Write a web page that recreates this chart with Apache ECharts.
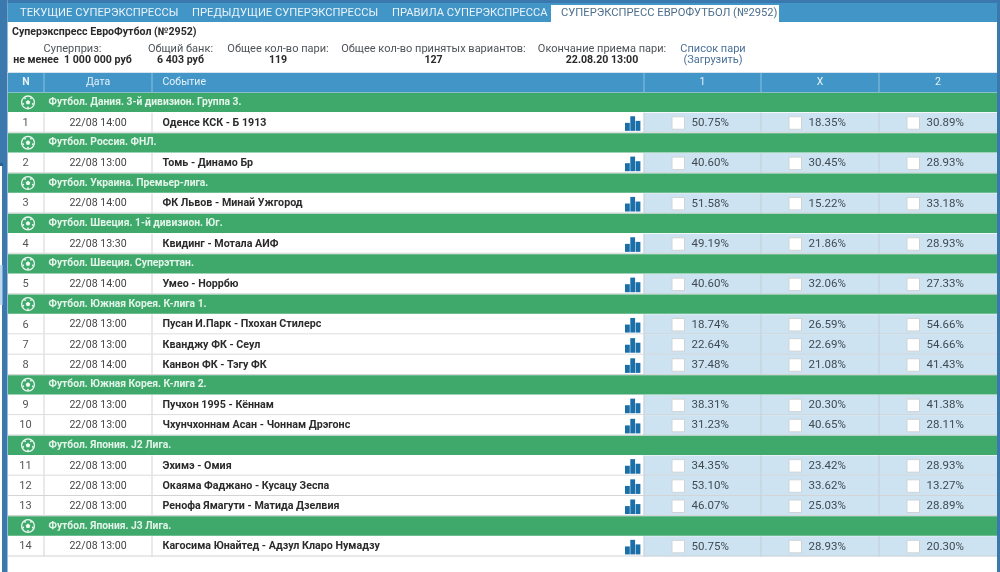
<!DOCTYPE html>
<html><head><meta charset="utf-8">
<style>html,body{margin:0;padding:0;background:#fff}#c{width:1000px;height:572px}</style>
<script src="https://cdn.jsdelivr.net/npm/echarts@6/dist/echarts.min.js"></script>
</head><body><div id="c"></div>
<script>
// ---------- data ----------
const tabLabels = ['ТЕКУЩИЕ СУПЕРЭКСПРЕССЫ','ПРЕДЫДУЩИЕ СУПЕРЭКСПРЕССЫ','ПРАВИЛА СУПЕРЭКСПРЕССА','СУПЕРЭКСПРЕСС ЕВРОФУТБОЛ (№2952)'];
const pageTitle = 'Суперэкспресс ЕвроФутбол (№2952)';
const statLabels = ['Суперприз:','Общий банк:','Общее кол-во пари:','Общее кол-во принятых вариантов:','Окончание приема пари:'];
const statValues = ['не менее  1 000 000 руб','6 403 руб','119','127','22.08.20 13:00'];
const linkLabels = ['Список пари','(Загрузить)'];
const columnLabels = ['N','Дата','Событие','1','X','2'];
const leagueNames = ['Футбол. Дания. 3-й дивизион. Группа 3.','Футбол. Россия. ФНЛ.','Футбол. Украина. Премьер-лига.','Футбол. Швеция. 1-й дивизион. Юг.','Футбол. Швеция. Суперэттан.','Футбол. Южная Корея. К-лига 1.','Футбол. Южная Корея. К-лига 2.','Футбол. Япония. J2 Лига.','Футбол. Япония. J3 Лига.'];
const leagueFirstMatch = [1,2,3,4,5,6,9,11,14];
const matchNumbers = [1,2,3,4,5,6,7,8,9,10,11,12,13,14];
const matchDates = ['22/08 14:00','22/08 13:00','22/08 14:00','22/08 13:30','22/08 14:00','22/08 13:00','22/08 13:00','22/08 14:00','22/08 13:00','22/08 13:00','22/08 13:00','22/08 13:00','22/08 13:00','22/08 13:00'];
const matchEvents = ['Оденсе КСК - Б 1913','Томь - Динамо Бр','ФК Львов - Минай Ужгород','Квидинг - Мотала АИФ','Умео - Норрбю','Пусан И.Парк - Пхохан Стилерс','Кванджу ФК - Сеул','Канвон ФК - Тэгу ФК','Пучхон 1995 - Кённам','Чхунчхоннам Асан - Чоннам Дрэгонс','Эхимэ - Омия','Окаяма Фаджано - Кусацу Зеспа','Ренофа Ямагути - Матида Дзелвия','Кагосима Юнайтед - Адзул Кларо Нумадзу'];
const percentHome = [50.75,40.60,51.58,49.19,40.60,18.74,22.64,37.48,38.31,31.23,34.35,53.10,46.07,50.75];
const percentDraw = [18.35,30.45,15.22,21.86,32.06,26.59,22.69,21.08,20.30,40.65,23.42,33.62,25.03,28.93];
const percentAway = [30.89,28.93,33.18,28.93,27.33,54.66,54.66,41.43,41.38,28.11,28.93,13.27,28.89,20.30];

// ---------- layout / style ----------
const EDGES = [8,44,152,644,761,879,997];
const BLUE='#4195c7', GREEN='#3fa96c', PALE='#cde3f1', LINE='#d2d4d6', FONT='Roboto, sans-serif';
const fnt=(s,b)=>(b?'bold ':'')+s+'px '+FONT;

// build the row list: header, then league / match rows in order
const rowNames=['header'];
const leagueRows=[], matchRows=[];
matchNumbers.forEach((n,i)=>{
  const l=leagueFirstMatch.indexOf(n);
  if(l>=0){ leagueRows.push([rowNames.length,l]); rowNames.push('league'+l); }
  matchRows.push([rowNames.length,i,percentHome[i],percentDraw[i],percentAway[i]]); rowNames.push('match'+n);
});

function band(api,idx){
  const c=api.coord([0,idx]); const h=api.size([0,1])[1];
  return {cy:c[1],top:c[1]-h/2,h};
}
const X=(api,v)=>api.coord([v,0])[0];
const rect=(x,y,w,h,fill,extra)=>({type:'rect',shape:{x,y,width:w,height:h},style:Object.assign({fill},extra||{})});
const txt=(t,x,y,font,fill,align)=>({type:'text',style:{text:t,x,y,font,fill,textAlign:align||'left',textVerticalAlign:'middle'}});

function renderHeader(params,api){
  const b=band(api,api.value(0)); const ch=[];
  ch.push(rect(X(api,EDGES[0]),b.top+0.7,X(api,EDGES[6])-X(api,EDGES[0]),b.h-0.7,BLUE));
  [1,2,3,4,5].forEach(i=>ch.push(rect(X(api,EDGES[i])-0.5,b.top+0.7,1,b.h-0.7,'#8dbfdd')));
  const centers=[(EDGES[0]+EDGES[1])/2,(EDGES[1]+EDGES[2])/2,EDGES[2]+10.5,(EDGES[3]+EDGES[4])/2,(EDGES[4]+EDGES[5])/2,(EDGES[5]+EDGES[6])/2];
  columnLabels.forEach((t,i)=>ch.push(txt(t,X(api,centers[i]),b.cy,fnt(10.5,i===0),'#e6f1f8',i===2?'left':'center')));
  return {type:'group',children:ch};
}
function ball(cx,cy){
  const r=6.4,ch=[{type:'circle',shape:{cx,cy,r},style:{fill:'none',stroke:'#eef8f2',lineWidth:1.3}}];
  ch.push({type:'polygon',shape:{points:[0,1,2,3,4].map(k=>{const a=-Math.PI/2+k*2*Math.PI/5;return [cx+2.4*Math.cos(a),cy+2.4*Math.sin(a)];})},style:{fill:'#eef8f2'}});
  [0,1,2,3,4].forEach(k=>{const a=-Math.PI/2+(k+.5)*2*Math.PI/5;ch.push({type:'circle',shape:{cx:cx+5*Math.cos(a),cy:cy+5*Math.sin(a),r:0.9},style:{fill:'#eef8f2'}});});
  return ch;
}
function renderLeague(params,api){
  const b=band(api,api.value(0)); const name=leagueNames[api.value(1)];
  const ch=[rect(X(api,EDGES[0]),b.top+0.3,X(api,EDGES[6])-X(api,EDGES[0]),b.h-0.9,GREEN)];
  ball(X(api,28),b.cy-0.2).forEach(e=>ch.push(e));
  ch.push(txt(name,X(api,48.5),b.cy-0.2,fnt(10.3,true),'#e4f4ea'));
  return {type:'group',children:ch};
}
function renderMatch(params,api){
  const b=band(api,api.value(0)), i=api.value(1), cy=b.cy+0.3, ch=[];
  const top=b.top, h=b.h;
  ch.push(rect(X(api,EDGES[0]),top,X(api,EDGES[3])-X(api,EDGES[0]),h,'#ffffff'));
  ch.push(rect(X(api,EDGES[3]),top,X(api,EDGES[6])-X(api,EDGES[3]),h,PALE));
  ch.push(rect(X(api,EDGES[0]),top+h-1,X(api,EDGES[6])-X(api,EDGES[0]),1,LINE));
  [1,2,3,4,5].forEach(k=>ch.push(rect(X(api,EDGES[k])-0.6,top,1.2,h,k<3?'#d9dadb':'#c4d2dc')));
  ch.push(txt(String(matchNumbers[i]),X(api,25.5),cy,fnt(11),'#555','center'));
  ch.push(txt(matchDates[i],X(api,98),cy,fnt(10.6),'#444','center'));
  ch.push(txt(matchEvents[i],X(api,162.5),cy,fnt(10.7,true),'#2b2b2b'));
  // little bar-chart icon
  const ix=X(api,625),bot=cy+7.8;
  [[0,4.8,8],[5.3,4.8,14.6],[10.6,4.8,10]].forEach(s=>ch.push(rect(ix+s[0],bot-s[2],s[1],s[2],'#1b6fa8')));
  // outcome cells
  [2,3,4].forEach((v,k)=>{
    const left=EDGES[3+k];
    ch.push(rect(X(api,left)+28,cy-6.3,12.5,12.5,'#ffffff',{stroke:'#cfd3d6',lineWidth:1}));
    ch.push(txt(api.value(v).toFixed(2)+'%',X(api,left)+47.5,cy,fnt(11.5),'#3f4a52'));
  });
  return {type:'group',children:ch};
}

const gText=(t,x,y,font,fill,align)=>({type:'text',x,y,silent:true,style:{text:t,font,fill,textAlign:align||'center',textVerticalAlign:'middle'}});
const gRect=(x,y,w,h,fill)=>({type:'rect',shape:{x,y,width:w,height:h},silent:true,style:{fill}});
const tabX=[20,192,392,561];
const statCenters=[72.5,180.5,278,433.5,602];
const graphics=[
  gRect(0,0,1000,572,'#ffffff'),
  gRect(2,0,5.5,572,'#3b78ad'),
  gRect(0,0,2,163,'#3b78ad'),
  gRect(0,163,3,3,'#2d5f8e'),
  gRect(0,265,2.5,40,'#bcd9ee'),
  gRect(997,0,3,572,'#3b78ad'),
  gRect(7.5,0,990,3,'#3b78ad'),
  gRect(7.5,3,989.5,19,BLUE),
  gRect(551,5,228,17.5,'#ffffff')
];
tabLabels.forEach((t,i)=>graphics.push(gText(t,tabX[i],13.3,fnt(11.2),i===3?'#4d6f8c':'#e9f3f9','left')));
graphics.push(gText(pageTitle,12,32.5,fnt(10.6,true),'#2a2a2a','left'));
statLabels.forEach((t,i)=>graphics.push(gText(t,statCenters[i],49,fnt(11),'#4e5358')));
statValues.forEach((t,i)=>graphics.push(gText(t,statCenters[i],60.5,fnt(10.6,true),'#2a2a2a')));
graphics.push(gText(linkLabels[0],713,49,fnt(11),'#4a7098'));
graphics.push(gText(linkLabels[1],713,60.5,fnt(11),'#4a7098'));
graphics.push(gRect(7.5,72,989.5,1,'#d7e4ed'));

const chart=echarts.init(document.getElementById('c'),null,{renderer:'canvas'});
chart.setOption({
  animation:false,
  backgroundColor:'#ffffff',
  graphic:{elements:graphics},
  grid:{left:0,top:72.33,width:1000,height:484.08,containLabel:false},
  xAxis:{type:'value',min:0,max:1000,show:false},
  yAxis:{type:'category',inverse:true,data:rowNames,show:false},
  series:[
    {type:'custom',coordinateSystem:'cartesian2d',clip:false,silent:true,data:[[0]],encode:{y:0},renderItem:renderHeader,z:3},
    {type:'custom',coordinateSystem:'cartesian2d',clip:false,silent:true,data:leagueRows,encode:{y:0},renderItem:renderLeague,z:4},
    {type:'custom',coordinateSystem:'cartesian2d',clip:false,silent:true,data:matchRows,encode:{y:0},renderItem:renderMatch,z:3}
  ]
});
</script></body></html>
